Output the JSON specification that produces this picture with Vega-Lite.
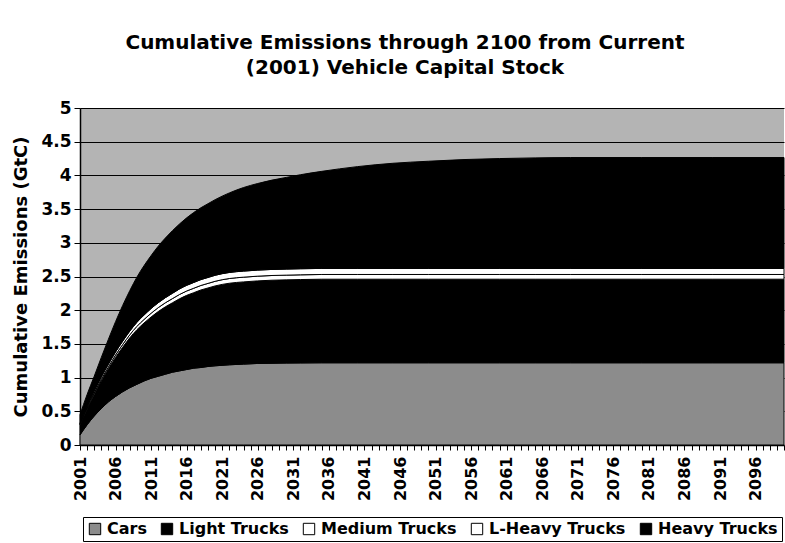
{
  "$schema": "https://vega.github.io/schema/vega-lite/v6.json",
  "autosize": "none",
  "width": 704,
  "height": 337,
  "padding": {"left": 80, "top": 108, "right": 1, "bottom": 98},
  "background": "white",
  "config": {
    "font": "DejaVu Sans",
    "view": {"fill": "#b4b4b4", "stroke": null}
  },
  "title": {
    "text": ["Cumulative Emissions through 2100 from Current", "(2001) Vehicle Capital Stock"],
    "font": "DejaVu Sans",
    "fontSize": 20,
    "fontWeight": "bold",
    "lineHeight": 25,
    "color": "black",
    "anchor": "middle",
    "dx": -27,
    "offset": 21
  },
  "datasets": {
    "vehicleOrder": [
      {"vehicle": "Cars", "rank": 1},
      {"vehicle": "Light Trucks", "rank": 2},
      {"vehicle": "Medium Trucks", "rank": 3},
      {"vehicle": "L-Heavy Trucks", "rank": 4},
      {"vehicle": "Heavy Trucks", "rank": 5}
    ],
    "emissions": [
      {"year": 2001, "Cars": 0.15, "Light Trucks": 0.15, "Medium Trucks": 0.01, "L-Heavy Trucks": 0.01, "Heavy Trucks": 0.13},
      {"year": 2002, "Cars": 0.30, "Light Trucks": 0.23, "Medium Trucks": 0.015, "L-Heavy Trucks": 0.02, "Heavy Trucks": 0.185},
      {"year": 2003, "Cars": 0.43, "Light Trucks": 0.32, "Medium Trucks": 0.02, "L-Heavy Trucks": 0.03, "Heavy Trucks": 0.22},
      {"year": 2004, "Cars": 0.54, "Light Trucks": 0.41, "Medium Trucks": 0.025, "L-Heavy Trucks": 0.035, "Heavy Trucks": 0.29},
      {"year": 2005, "Cars": 0.64, "Light Trucks": 0.49, "Medium Trucks": 0.03, "L-Heavy Trucks": 0.04, "Heavy Trucks": 0.37},
      {"year": 2006, "Cars": 0.72, "Light Trucks": 0.58, "Medium Trucks": 0.035, "L-Heavy Trucks": 0.045, "Heavy Trucks": 0.45},
      {"year": 2007, "Cars": 0.79, "Light Trucks": 0.66, "Medium Trucks": 0.04, "L-Heavy Trucks": 0.05, "Heavy Trucks": 0.53},
      {"year": 2008, "Cars": 0.85, "Light Trucks": 0.74, "Medium Trucks": 0.045, "L-Heavy Trucks": 0.055, "Heavy Trucks": 0.60},
      {"year": 2009, "Cars": 0.90, "Light Trucks": 0.81, "Medium Trucks": 0.05, "L-Heavy Trucks": 0.06, "Heavy Trucks": 0.67},
      {"year": 2010, "Cars": 0.95, "Light Trucks": 0.86, "Medium Trucks": 0.052, "L-Heavy Trucks": 0.065, "Heavy Trucks": 0.733},
      {"year": 2011, "Cars": 0.99, "Light Trucks": 0.91, "Medium Trucks": 0.055, "L-Heavy Trucks": 0.07, "Heavy Trucks": 0.785},
      {"year": 2012, "Cars": 1.02, "Light Trucks": 0.96, "Medium Trucks": 0.058, "L-Heavy Trucks": 0.073, "Heavy Trucks": 0.839},
      {"year": 2013, "Cars": 1.05, "Light Trucks": 1.00, "Medium Trucks": 0.06, "L-Heavy Trucks": 0.076, "Heavy Trucks": 0.884},
      {"year": 2014, "Cars": 1.08, "Light Trucks": 1.03, "Medium Trucks": 0.062, "L-Heavy Trucks": 0.079, "Heavy Trucks": 0.929},
      {"year": 2015, "Cars": 1.10, "Light Trucks": 1.07, "Medium Trucks": 0.064, "L-Heavy Trucks": 0.082, "Heavy Trucks": 0.964},
      {"year": 2016, "Cars": 1.12, "Light Trucks": 1.10, "Medium Trucks": 0.065, "L-Heavy Trucks": 0.084, "Heavy Trucks": 1.001},
      {"year": 2017, "Cars": 1.14, "Light Trucks": 1.12, "Medium Trucks": 0.066, "L-Heavy Trucks": 0.086, "Heavy Trucks": 1.038},
      {"year": 2018, "Cars": 1.15, "Light Trucks": 1.15, "Medium Trucks": 0.067, "L-Heavy Trucks": 0.087, "Heavy Trucks": 1.066},
      {"year": 2019, "Cars": 1.165, "Light Trucks": 1.165, "Medium Trucks": 0.068, "L-Heavy Trucks": 0.088, "Heavy Trucks": 1.094},
      {"year": 2020, "Cars": 1.175, "Light Trucks": 1.185, "Medium Trucks": 0.069, "L-Heavy Trucks": 0.089, "Heavy Trucks": 1.122},
      {"year": 2022, "Cars": 1.19, "Light Trucks": 1.21, "Medium Trucks": 0.07, "L-Heavy Trucks": 0.09, "Heavy Trucks": 1.18},
      {"year": 2024, "Cars": 1.20, "Light Trucks": 1.22, "Medium Trucks": 0.07, "L-Heavy Trucks": 0.09, "Heavy Trucks": 1.24},
      {"year": 2026, "Cars": 1.21, "Light Trucks": 1.225, "Medium Trucks": 0.07, "L-Heavy Trucks": 0.09, "Heavy Trucks": 1.285},
      {"year": 2028, "Cars": 1.213, "Light Trucks": 1.232, "Medium Trucks": 0.07, "L-Heavy Trucks": 0.09, "Heavy Trucks": 1.325},
      {"year": 2030, "Cars": 1.216, "Light Trucks": 1.234, "Medium Trucks": 0.07, "L-Heavy Trucks": 0.09, "Heavy Trucks": 1.36},
      {"year": 2032, "Cars": 1.218, "Light Trucks": 1.237, "Medium Trucks": 0.07, "L-Heavy Trucks": 0.09, "Heavy Trucks": 1.395},
      {"year": 2035, "Cars": 1.22, "Light Trucks": 1.24, "Medium Trucks": 0.07, "L-Heavy Trucks": 0.09, "Heavy Trucks": 1.44},
      {"year": 2040, "Cars": 1.22, "Light Trucks": 1.24, "Medium Trucks": 0.07, "L-Heavy Trucks": 0.09, "Heavy Trucks": 1.51},
      {"year": 2045, "Cars": 1.22, "Light Trucks": 1.24, "Medium Trucks": 0.07, "L-Heavy Trucks": 0.09, "Heavy Trucks": 1.56},
      {"year": 2050, "Cars": 1.22, "Light Trucks": 1.24, "Medium Trucks": 0.07, "L-Heavy Trucks": 0.09, "Heavy Trucks": 1.59},
      {"year": 2055, "Cars": 1.22, "Light Trucks": 1.24, "Medium Trucks": 0.07, "L-Heavy Trucks": 0.09, "Heavy Trucks": 1.615},
      {"year": 2060, "Cars": 1.22, "Light Trucks": 1.24, "Medium Trucks": 0.07, "L-Heavy Trucks": 0.09, "Heavy Trucks": 1.63},
      {"year": 2065, "Cars": 1.22, "Light Trucks": 1.24, "Medium Trucks": 0.07, "L-Heavy Trucks": 0.09, "Heavy Trucks": 1.64},
      {"year": 2070, "Cars": 1.22, "Light Trucks": 1.24, "Medium Trucks": 0.07, "L-Heavy Trucks": 0.09, "Heavy Trucks": 1.645},
      {"year": 2080, "Cars": 1.22, "Light Trucks": 1.24, "Medium Trucks": 0.07, "L-Heavy Trucks": 0.09, "Heavy Trucks": 1.645},
      {"year": 2090, "Cars": 1.22, "Light Trucks": 1.24, "Medium Trucks": 0.07, "L-Heavy Trucks": 0.09, "Heavy Trucks": 1.645},
      {"year": 2100, "Cars": 1.22, "Light Trucks": 1.24, "Medium Trucks": 0.07, "L-Heavy Trucks": 0.09, "Heavy Trucks": 1.645}
    ]
  },
  "data": {"name": "emissions"},
  "transform": [
    {"fold": ["Cars", "Light Trucks", "Medium Trucks", "L-Heavy Trucks", "Heavy Trucks"], "as": ["vehicle", "emissions"]},
    {"lookup": "vehicle", "from": {"data": {"name": "vehicleOrder"}, "key": "vehicle", "fields": ["rank"]}}
  ],
  "mark": {"type": "area", "interpolate": "monotone", "stroke": "black", "strokeWidth": 1},
  "encoding": {
    "x": {
      "field": "year",
      "type": "quantitative",
      "scale": {"domain": [2001, 2100], "nice": false, "zero": false},
      "axis": {
        "title": null,
        "values": [2001,2002,2003,2004,2005,2006,2007,2008,2009,2010,2011,2012,2013,2014,2015,2016,2017,2018,2019,2020,2021,2022,2023,2024,2025,2026,2027,2028,2029,2030,2031,2032,2033,2034,2035,2036,2037,2038,2039,2040,2041,2042,2043,2044,2045,2046,2047,2048,2049,2050,2051,2052,2053,2054,2055,2056,2057,2058,2059,2060,2061,2062,2063,2064,2065,2066,2067,2068,2069,2070,2071,2072,2073,2074,2075,2076,2077,2078,2079,2080,2081,2082,2083,2084,2085,2086,2087,2088,2089,2090,2091,2092,2093,2094,2095,2096,2097,2098,2099,2100],
        "labelExpr": "(datum.value - 2001) % 5 == 0 ? datum.value + '' : ''",
        "labelAngle": -90,
        "labelOverlap": false,
        "labelFont": "DejaVu Sans",
        "labelFontSize": 16,
        "labelFontWeight": "bold",
        "labelColor": "black",
        "labelPadding": 6,
        "labelBound": false,
        "labelFlush": false,
        "tickColor": "black",
        "tickSize": 5,
        "domainColor": "black",
        "domainWidth": 1.5,
        "grid": false
      }
    },
    "y": {
      "field": "emissions",
      "type": "quantitative",
      "stack": "zero",
      "scale": {"domain": [0, 5], "nice": false},
      "axis": {
        "title": "Cumulative Emissions (GtC)",
        "titleFont": "DejaVu Sans",
        "titleFontSize": 18,
        "titleFontWeight": "bold",
        "titleColor": "black",
        "titlePadding": 10,
        "values": [0, 0.5, 1, 1.5, 2, 2.5, 3, 3.5, 4, 4.5, 5],
        "format": "~g",
        "labelFont": "DejaVu Sans",
        "labelFontSize": 17,
        "labelFontWeight": "bold",
        "labelColor": "black",
        "labelPadding": 3,
        "labelFlush": false,
        "tickColor": "black",
        "tickSize": 6,
        "domainColor": "black",
        "domainWidth": 1.5,
        "grid": true,
        "gridColor": "black",
        "gridWidth": 1,
        "gridOpacity": 1
      }
    },
    "color": {
      "field": "vehicle",
      "type": "nominal",
      "scale": {
        "domain": ["Cars", "Light Trucks", "Medium Trucks", "L-Heavy Trucks", "Heavy Trucks"],
        "range": ["#8c8c8c", "#000000", "#ffffff", "#ffffff", "#000000"]
      },
      "legend": {
        "title": null,
        "orient": "none",
        "direction": "horizontal",
        "legendX": 3,
        "legendY": 409,
        "columns": 5,
        "columnPadding": 12,
        "padding": 4,
        "strokeColor": "black",
        "fillColor": "white",
        "symbolType": "square",
        "symbolSize": 130,
        "symbolStrokeColor": "black",
        "symbolStrokeWidth": 1,
        "symbolOpacity": 1,
        "labelFont": "DejaVu Sans",
        "labelFontSize": 16,
        "labelFontWeight": "bold",
        "labelColor": "black",
        "labelOffset": 4,
        "labelLimit": 300
      }
    },
    "order": {"field": "rank", "type": "quantitative", "sort": "ascending"}
  }
}
